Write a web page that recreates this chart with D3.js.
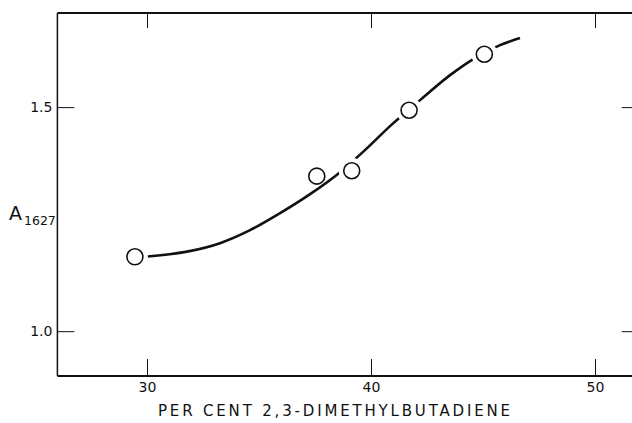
<!DOCTYPE html>
<html>
<head>
<meta charset="utf-8">
<script src="https://cdn.jsdelivr.net/npm/d3@7"></script>
<style>
  html, body { margin: 0; padding: 0; background: #fff; }
  svg { display: block; }
  .tick text { font-family: "DejaVu Sans", sans-serif; font-size: 14px; fill: #111; }
</style>
</head>
<body>
<svg id="chart" width="632" height="423"></svg>
<script>
// Measured absorbance at 1627 cm-1 versus composition
const pointX = [29.46, 37.58, 39.14, 41.70, 45.06];
const pointY = [1.166, 1.346, 1.358, 1.493, 1.618];

// Smooth trend drawn through the measurements
const curveX = [29.91, 31.79, 33.26, 34.60, 35.94, 37.28, 38.62, 39.73, 40.85, 42.19, 43.53, 44.64, 45.76, 46.65];
const curveY = [1.166, 1.1775, 1.1964, 1.2254, 1.2634, 1.3058, 1.3549, 1.4040, 1.4576, 1.5156, 1.5714, 1.6094, 1.6384, 1.654];

const xTicks = [30, 40, 50];
const yTicks = [1.0, 1.5];
const xTitle = "PER CENT 2,3-DIMETHYLBUTADIENE";

const svg = d3.select("#chart");

const x = d3.scaleLinear().domain([26, 52]).range([57.4, 639.8]);
const y = d3.scaleLinear().domain([0.9, 1.71]).range([376, 13]);

const [x0, x1] = x.range();
const [yb, yt] = y.range();

// Frame
const frame = svg.append("g").attr("stroke", "#111").attr("fill", "none");
frame.append("line").attr("x1", x0).attr("x2", x1).attr("y1", yb).attr("y2", yb).attr("stroke-width", 1.8);
frame.append("line").attr("x1", x0).attr("x2", x1).attr("y1", yt).attr("y2", yt).attr("stroke-width", 1.8);
frame.append("line").attr("x1", x0).attr("x2", x0).attr("y1", yt).attr("y2", yb).attr("stroke-width", 1.5);
frame.append("line").attr("x1", x1).attr("x2", x1).attr("y1", yt).attr("y2", yb).attr("stroke-width", 1.5);

function styleAxis(g) {
  g.select(".domain").remove();
  g.selectAll(".tick line").attr("stroke", "#111").attr("stroke-width", 1);
}

// Bottom axis with inward ticks
svg.append("g")
  .attr("transform", `translate(0,${yb})`)
  .call(d3.axisBottom(x).tickValues(xTicks).tickFormat(d3.format("d"))
    .tickSizeInner(-17).tickSizeOuter(0).tickPadding(6))
  .call(styleAxis);

// Top axis ticks only
svg.append("g")
  .attr("transform", `translate(0,${yt})`)
  .call(d3.axisTop(x).tickValues(xTicks).tickFormat("")
    .tickSizeInner(-15).tickSizeOuter(0))
  .call(styleAxis);

// Left axis
svg.append("g")
  .attr("transform", `translate(${x0},0)`)
  .call(d3.axisLeft(y).tickValues(yTicks).tickFormat(d3.format(".1f"))
    .tickSizeInner(-17).tickSizeOuter(0).tickPadding(5))
  .call(styleAxis);

// Right axis ticks only
svg.append("g")
  .attr("transform", `translate(${x1},0)`)
  .call(d3.axisRight(y).tickValues(yTicks).tickFormat("")
    .tickSizeInner(-18).tickSizeOuter(0))
  .call(styleAxis);

// Trend curve
const line = d3.line()
  .x(d => x(d[0]))
  .y(d => y(d[1]))
  .curve(d3.curveMonotoneX);

const curvePath = svg.append("path")
  .datum(d3.zip(curveX, curveY))
  .attr("d", line)
  .attr("fill", "none")
  .attr("stroke", "#111")
  .attr("stroke-width", 2.6)
  .attr("stroke-linecap", "butt");

// Gaps in the curve where it runs through or grazes a marker
const node = curvePath.node();
const total = node.getTotalLength();
function distToCurve(px, py) {
  let best = Infinity;
  for (let s = 0; s <= total; s += 1) {
    const p = node.getPointAtLength(s);
    best = Math.min(best, Math.hypot(p.x - px, p.y - py));
  }
  return best;
}
const pts = d3.zip(pointX, pointY);
svg.append("g").selectAll("circle")
  .data(pts.filter(d => distToCurve(x(d[0]), y(d[1])) < 10.5))
  .join("circle")
  .attr("cx", d => x(d[0]))
  .attr("cy", d => y(d[1]))
  .attr("r", 13)
  .attr("fill", "#fff");

// Markers
svg.append("g").selectAll("circle")
  .data(pts)
  .join("circle")
  .attr("cx", d => x(d[0]))
  .attr("cy", d => y(d[1]))
  .attr("r", 8)
  .attr("fill", "#fff")
  .attr("stroke", "#111")
  .attr("stroke-width", 1.6);

// Axis titles
svg.append("text")
  .attr("x", 334)
  .attr("y", 416)
  .attr("text-anchor", "middle")
  .attr("textLength", 352)
  .attr("lengthAdjust", "spacing")
  .attr("font-family", "DejaVu Sans, sans-serif")
  .attr("font-size", 15)
  .attr("fill", "#111")
  .text(xTitle);

const yTitle = svg.append("text")
  .attr("x", 9)
  .attr("y", 220)
  .attr("font-family", "DejaVu Sans, sans-serif")
  .attr("fill", "#111");
yTitle.append("tspan").attr("font-size", 19).text("A");
yTitle.append("tspan").attr("font-size", 12.5).attr("dx", 2).attr("dy", 5).text("1627");
</script>
</body>
</html>
